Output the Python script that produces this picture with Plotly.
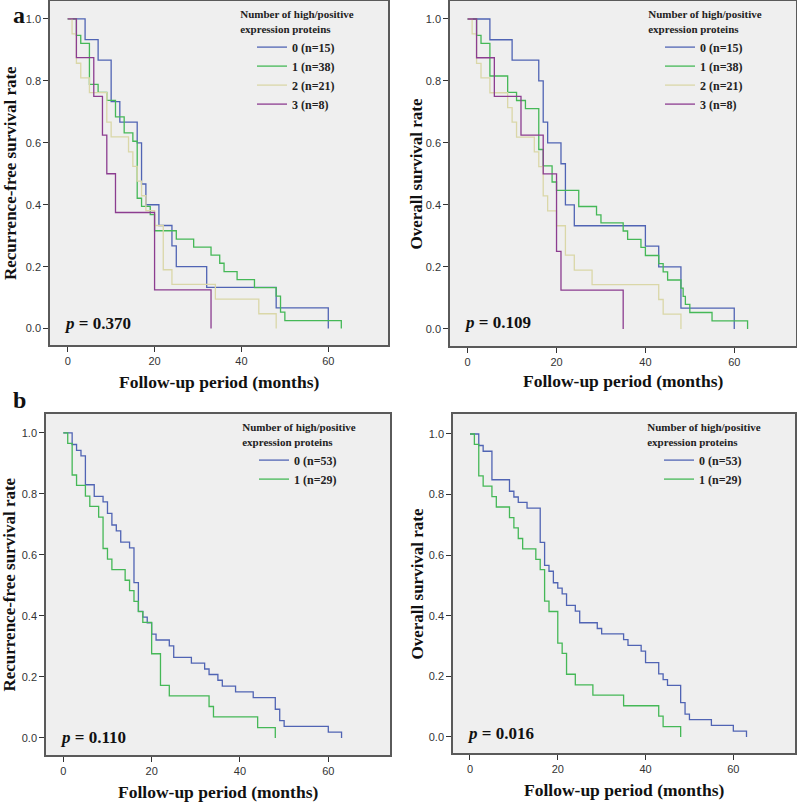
import plotly.graph_objects as go

W, H = 797, 802

# ---------------- data ----------------
# Panel a (left): recurrence-free survival, 4 groups
a_t0 = [0, 4, 7, 10, 12, 16, 17, 18, 21, 24, 25, 32, 48, 60]
a_s0 = [1, .933, .867, .733, .667, .6, .467, .4, .333, .267, .2, .133, .067, 0]
a_t1 = [0, 2, 3, 5, 7, 9, 11, 13, 15, 16, 17, 19, 20, 25, 29, 33, 35, 36, 39, 43, 48, 49, 50, 63]
a_s1 = [1, .947, .921, .789, .763, .737, .684, .632, .605, .421, .395, .368, .316, .289, .263, .237,
        .211, .184, .158, .132, .105, .053, .026, 0]
a_t2 = [0, 1, 2, 3, 5, 9, 10, 14, 15, 16, 17, 18, 20, 22, 24, 34, 44, 48]
a_s2 = [1, .952, .857, .810, .762, .667, .619, .571, .524, .476, .429, .381, .333, .190, .143, .095, .048, 0]
a_t3 = [0, 2, 6, 8, 9, 11, 20, 33]
a_s3 = [1, .875, .75, .625, .5, .375, .125, 0]

# Panel a (right): overall survival, 4 groups
b_t0 = [0, 5, 10, 16, 17, 18, 21, 22, 24, 40, 43, 48, 60]
b_s0 = [1, .933, .867, .8, .667, .6, .533, .4, .333, .267, .2, .067, 0]
b_t1 = [0, 2, 3, 5, 9, 11, 13, 16, 17, 19, 20, 25, 29, 30, 35, 36, 39, 40, 43, 44, 45, 48, 48.5, 49, 50, 55, 63]
b_s1 = [1, .947, .921, .816, .763, .737, .711, .579, .526, .474, .447, .395, .368, .342, .316, .289,
        .263, .237, .211, .184, .158, .132, .105, .079, .053, .026, 0]
b_t2 = [0, 1, 2, 3, 5, 9, 10, 11, 15, 16, 17, 18, 20, 22, 24, 28, 43, 44, 48]
b_s2 = [1, .952, .857, .810, .762, .714, .667, .619, .571, .524, .429, .381, .333, .238, .190, .143, .095, .048, 0]
b_t3 = [0, 2, 6, 12, 17, 20, 21, 35]
b_s3 = [1, .875, .75, .625, .5, .25, .125, 0]

# Panel b (left): recurrence-free survival, 2 groups
c_t0 = [0, 2, 3, 4, 5, 7, 9, 10, 11, 12, 13, 15, 16, 17, 18, 19, 20, 21, 24, 25, 29, 32, 33, 35, 36,
        39, 43, 48, 49, 50, 60, 63]
c_s0 = [1, .962, .943, .925, .830, .792, .774, .736, .698, .679, .642, .623, .509, .415, .396, .377,
        .340, .321, .302, .264, .245, .226, .208, .189, .170, .151, .132, .094, .057, .038, .019, 0]
c_t1 = [0, 1, 2, 3, 5, 6, 8, 9, 10, 11, 14, 15, 16, 17, 18, 20, 22, 24, 33, 34, 44, 48]
c_s1 = [1, .966, .862, .828, .793, .759, .724, .621, .586, .552, .517, .483, .448, .414, .379, .276,
        .172, .138, .103, .069, .034, 0]

# Panel b (right): overall survival, 2 groups
d_t0 = [0, 2, 3, 5, 9, 10, 11, 13, 16, 17, 18, 19, 20, 21, 22, 24, 25, 29, 30, 35, 36, 39, 40, 43, 44,
        45, 48, 49, 50, 55, 60, 63]
d_s0 = [1, .962, .943, .849, .811, .792, .774, .755, .642, .566, .547, .509, .491, .472, .434, .415,
        .377, .358, .340, .321, .302, .283, .245, .208, .189, .170, .113, .075, .057, .038, .019, 0]
d_t1 = [0, 1, 2, 3, 5, 6, 9, 10, 11, 12, 15, 16, 17, 18, 20, 21, 22, 24, 28, 35, 43, 44, 48]
d_s1 = [1, .966, .862, .828, .793, .759, .724, .690, .655, .621, .586, .552, .448, .414, .310, .276,
        .207, .172, .138, .103, .069, .034, 0]

labels4 = ["0 (n=15)", "1 (n=38)", "2 (n=21)", "3 (n=8)"]
labels2 = ["0 (n=53)", "1 (n=29)"]
p_values = ["0.370", "0.109", "0.110", "0.016"]
y_titles = ["Recurrence-free survival rate", "Overall survival rate",
            "Recurrence-free survival rate", "Overall survival rate"]
x_title = "Follow-up period (months)"
legend_title = "Number of high/positive<br>expression proteins"
x_ticks = [0, 20, 40, 60]
y_ticks = [0.0, 0.2, 0.4, 0.6, 0.8, 1.0]

colors = ["#5064b4", "#45b857", "#dad7a8", "#8c3d90"]

panels = [
    dict(series=[(a_t0, a_s0), (a_t1, a_s1), (a_t2, a_s2), (a_t3, a_s3)], labels=labels4,
         box=(50, 388, 1, 345), xr=(-4.08, 73.75), yr=(-0.053, 1.058),
         ytc=11, xtc=382, pc=324),
    dict(series=[(b_t0, b_s0), (b_t1, b_s1), (b_t2, b_s2), (b_t3, b_s3)], labels=labels4,
         box=(450, 796, 1, 346), xr=(-3.98, 73.9), yr=(-0.055, 1.058),
         ytc=416, xtc=381, pc=323),
    dict(series=[(c_t0, c_s0), (c_t1, c_s1)], labels=labels2,
         box=(46, 390, 414, 755), xr=(-3.92, 73.97), yr=(-0.056, 1.062),
         ytc=9, xtc=792, pc=737),
    dict(series=[(d_t0, d_s0), (d_t1, d_s1)], labels=labels2,
         box=(453, 795, 414, 753), xr=(-3.87, 74.05), yr=(-0.053, 1.066),
         ytc=417, xtc=790, pc=733),
]

SERIF = "Liberation Serif"
SANS = "Liberation Sans"

fig = go.Figure()
layout = dict(
    width=W, height=H, margin=dict(l=0, r=0, t=0, b=0),
    paper_bgcolor="white", plot_bgcolor="#efefef",
    showlegend=True, annotations=[],
)

for i, p in enumerate(panels):
    suf = "" if i == 0 else str(i + 1)
    x0, x1, y0, y1 = p["box"]
    for k, (t, s) in enumerate(p["series"]):
        fig.add_trace(go.Scatter(
            x=t, y=s, mode="lines", name=p["labels"][k],
            line=dict(shape="hv", color=colors[k], width=1.3),
            xaxis="x" + suf, yaxis="y" + suf, legend="legend" + suf,
            hoverinfo="skip",
        ))
    axis_common = dict(
        showgrid=False, zeroline=False, showline=True, mirror=True,
        linecolor="#5a5a5a", linewidth=1.5, ticks="outside", ticklen=5,
        tickcolor="#333333", tickwidth=1,
        tickfont=dict(family=SANS, size=11, color="#333333"),
    )
    layout["xaxis" + suf] = dict(
        axis_common, domain=[x0 / W, x1 / W], range=list(p["xr"]),
        tickvals=x_ticks, anchor="y" + suf,
    )
    layout["yaxis" + suf] = dict(
        axis_common, domain=[1 - y1 / H, 1 - y0 / H], range=list(p["yr"]),
        tickvals=y_ticks, tickformat=".1f", anchor="x" + suf,
    )
    # legend (top-right inside plot area)
    layout["legend" + suf] = dict(
        x=(x1 - 150) / W, y=1 - (y0 + 3) / H, xref="paper", yref="paper",
        xanchor="left", yanchor="top",
        bgcolor="rgba(0,0,0,0)", borderwidth=0, indentation=14,
        tracegroupgap=0, itemwidth=30,
        title=dict(text=legend_title, side="top center",
                   font=dict(family=SERIF, size=11, color="#222", weight="bold")),
        font=dict(family=SERIF, size=12, color="#222", weight="bold"),
    )
    # p value
    layout["annotations"].append(dict(
        text="<i>p</i> = " + p_values[i], xref="paper", yref="paper",
        x=(x0 + 12) / W, y=1 - p["pc"] / H, xanchor="left", yanchor="middle",
        showarrow=False, font=dict(family=SERIF, size=17, color="#111", weight="bold"),
    ))
    # axis titles
    layout["annotations"].append(dict(
        text=x_title, xref="paper", yref="paper",
        x=((x0 + x1) / 2) / W, y=1 - p["xtc"] / H, xanchor="center", yanchor="middle",
        showarrow=False, font=dict(family=SERIF, size=17.5, color="#111", weight="bold"),
    ))
    layout["annotations"].append(dict(
        text=y_titles[i], xref="paper", yref="paper", textangle=-90,
        x=p["ytc"] / W, y=1 - ((y0 + y1) / 2) / H, xanchor="center", yanchor="middle",
        showarrow=False, font=dict(family=SERIF, size=17, color="#111", weight="bold"),
    ))

# panel letters
for letter, (px, py) in zip(["a", "b"], [(19, 15), (19, 400)]):
    layout["annotations"].append(dict(
        text=letter, xref="paper", yref="paper", x=px / W, y=1 - py / H,
        xanchor="center", yanchor="middle", showarrow=False,
        font=dict(family=SERIF, size=24, color="#111", weight="bold"),
    ))

fig.update_layout(**layout)
fig.write_html(
    "out.html",
    config={"displayModeBar": False},
    post_script="document.body.style.margin='0';document.body.style.overflow='hidden';",
)
